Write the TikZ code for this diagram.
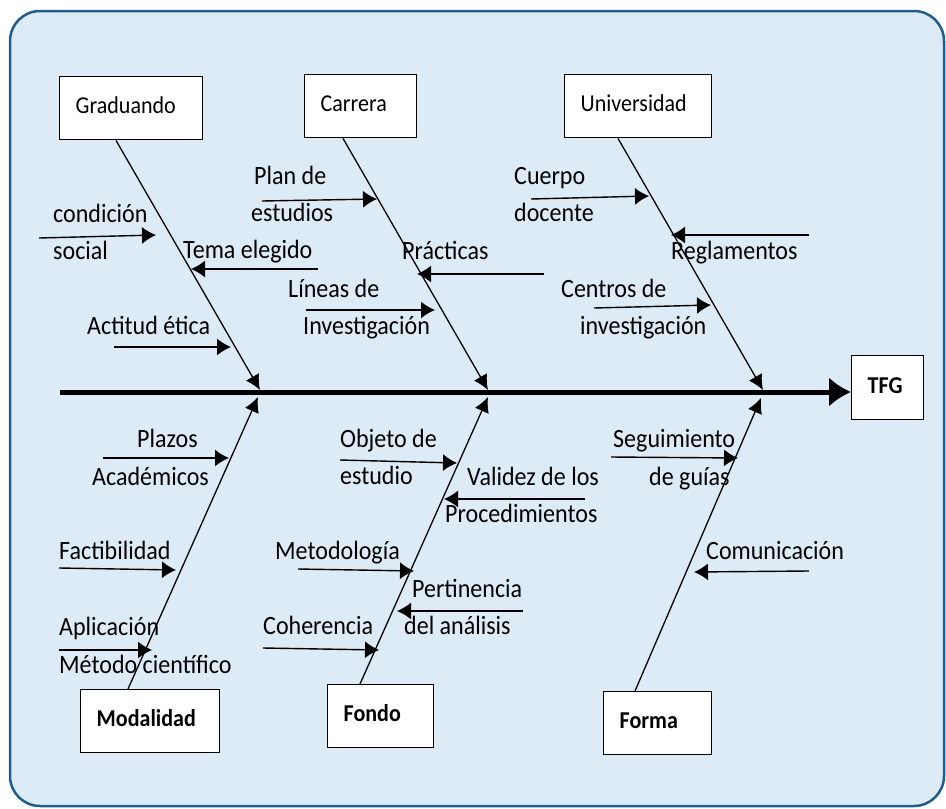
\documentclass[tikz,border=0pt]{standalone}
\usepackage{fontspec}
\setmainfont{Carlito}[FakeStretch=0.91]
\usetikzlibrary{arrows.meta}
\definecolor{fondoazul}{RGB}{221,235,247}
\definecolor{bordeazul}{RGB}{31,94,140}
\tikzset{
    box/.style={draw, line width=1.4pt, fill=white, minimum height=63pt, inner xsep=16pt, inner ysep=0pt,
        align=left, text height=16pt, text depth=5pt, anchor=north west, font=\fontsize{24.2}{28}\selectfont},
    bbox/.style={box, font=\fontsize{24.2}{28}\selectfont\bfseries},
    lbl/.style={anchor=base west, inner sep=0pt, font=\fontsize{26.4}{30}\selectfont},
    bone/.style={line width=1.3pt, -{Latex[length=15pt,width=15pt]}},
    cause/.style={line width=1.4pt, -{Latex[length=14pt,width=17pt]}},
    spine/.style={line width=5pt, -{Latex[length=22pt,width=30pt]}}
}
\begin{document}
\begin{tikzpicture}[x=1pt,y=-1pt]
    \useasboundingbox (0,0) rectangle (946,809);
    \draw[bordeazul, fill=fondoazul, line width=2.5pt, rounded corners=30pt] (10,11) rectangle (944,806);

    \node[box, text width=111pt] (grad) at (59,76) {Graduando};
    \node[box, text width=80pt] (carr) at (304,74) {Carrera};
    \node[box, text width=115pt] (univ) at (564,74) {Universidad};
    \node[bbox, text width=107pt] (modal) at (80,689) {Modalidad};
    \node[bbox, text width=74pt] (fondo) at (327,684) {Fondo};
    \node[bbox, text width=76pt] (forma) at (603,691) {Forma};
    \node[bbox, text width=40pt, minimum height=64pt] (tfg) at (851,355) {TFG};

    \coordinate (spL) at (60,392);
    \draw[spine] (spL) -- (tfg.west |- spL);

    \coordinate (hG) at (260,390);
    \coordinate (hC) at (488,390);
    \coordinate (hU) at (763,390);
    \coordinate (hM) at (258,397);
    \coordinate (hF) at (488,397);
    \coordinate (hFo) at (761,398);
    \draw[bone] ([xshift=57pt]grad.south west) -- (hG);
    \draw[bone] ([xshift=39pt]carr.south west) -- (hC);
    \draw[bone] ([xshift=54pt]univ.south west) -- (hU);
    \draw[bone] ([xshift=48pt]modal.north west) -- (hM);
    \draw[bone] ([xshift=33pt]fondo.north west) -- (hF);
    \draw[bone] ([xshift=32pt]forma.north west) -- (hFo);

    \draw[cause] (39,238) -- (156,235);
    \node[lbl] (condA) at (53,222) {condición};
    \node[lbl] (condB) at (53,259) {social};
    \draw[cause] (318,269) -- (191,269);
    \node[lbl] (tema) at (183,258) {Tema elegido};
    \draw[cause] (114,347) -- (231,347);
    \node[lbl] (actitud) at (87,334) {Actitud ética};

    \draw[cause] (262,201) -- (377,199);
    \node[lbl] (planA) at (254,184) {Plan de};
    \node[lbl] (planB) at (251,221) {estudios};
    \draw[cause] (544,274) -- (417,274);
    \node[lbl] (pract) at (402,259) {Prácticas};
    \draw[cause] (306,310) -- (435,310);
    \node[lbl] (lineasA) at (288,297) {Líneas de};
    \node[lbl] (lineasB) at (303,334) {Investigación};

    \draw[cause] (531,199) -- (649,196);
    \node[lbl] (cuerpoA) at (514,184) {Cuerpo};
    \node[lbl] (cuerpoB) at (514,221) {docente};
    \draw[cause] (809,235) -- (671,235);
    \node[lbl] (regl) at (671,259) {Reglamentos};
    \draw[cause] (594,308) -- (711,305);
    \node[lbl] (centrosA) at (561,297) {Centros de};
    \node[lbl] (centrosB) at (580,334) {investigación};

    \draw[cause] (103,458) -- (229,458);
    \node[lbl] (plazosA) at (137,447) {Plazos};
    \node[lbl] (plazosB) at (92,485) {Académicos};
    \draw[cause] (59,568) -- (176,570);
    \node[lbl] (factib) at (59,559) {Factibilidad};
    \draw[cause] (59,650) -- (152,650);
    \node[lbl] (aplicA) at (59,635) {Aplicación};
    \node[lbl] (aplicB) at (59,673) {Método científico};

    \draw[cause] (340,460) -- (457,463);
    \node[lbl] (objA) at (340,447) {Objeto de};
    \node[lbl] (objB) at (340,484) {estudio};
    \draw[cause] (585,499) -- (444,499);
    \node[lbl] (validA) at (467,485) {Validez de los};
    \node[lbl] (validB) at (445,522) {Procedimientos};
    \draw[cause] (298,569) -- (414,571);
    \node[lbl] (metod) at (275,559) {Metodología};
    \draw[cause] (523,611) -- (397,611);
    \node[lbl] (pertA) at (412,597) {Pertinencia};
    \node[lbl] (pertB) at (404,634) {del análisis};
    \draw[cause] (263,648) -- (379,650);
    \node[lbl] (coher) at (263,634) {Coherencia};

    \draw[cause] (611,457) -- (738,458);
    \node[lbl] (seguA) at (613,447) {Seguimiento};
    \node[lbl] (seguB) at (649,485) {de guías};
    \draw[cause] (809,571) -- (694,572);
    \node[lbl] (comun) at (706,559) {Comunicación};
\end{tikzpicture}
\end{document}
